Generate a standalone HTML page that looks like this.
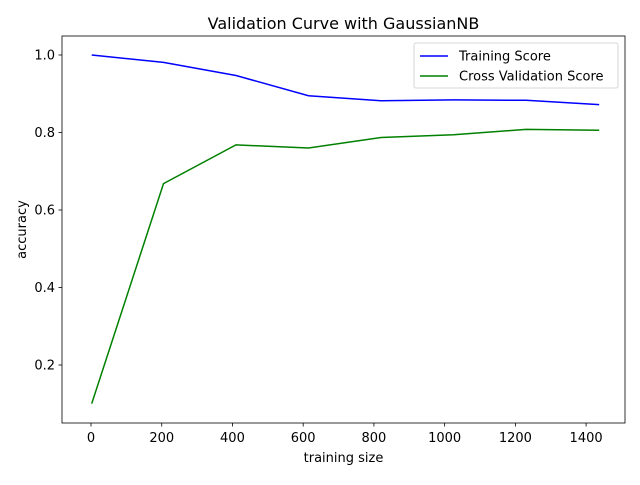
<!DOCTYPE html>
<html><head><meta charset="utf-8"><style>body{margin:0;background:#fff}svg text{font-family:"DejaVu Sans","Liberation Sans",sans-serif;fill:#000}</style></head>
<body>
<svg id="c" width="640" height="480" xmlns="http://www.w3.org/2000/svg"></svg>
<script>
const trainSizes=[2,205,410,615,820,1025,1230,1437];
const trainScores=[1.0,0.981,0.947,0.895,0.882,0.884,0.883,0.872];
const cvScores=[0.1,0.668,0.768,0.760,0.787,0.794,0.808,0.806];
const xTicks=[0,200,400,600,800,1000,1200,1400];
const yTicks=[0.2,0.4,0.6,0.8,1.0];
const L=62,R=625,T=36,B=423;
const xMin=-82,xMax=1510,yMin=0.0503,yMax=1.049;
const sx=v=>L+(v-xMin)/(xMax-xMin)*(R-L);
const sy=v=>B-(v-yMin)/(yMax-yMin)*(B-T);
const svg=document.getElementById('c');const NS='http://www.w3.org/2000/svg';
function mk(t,a,txt){const e=document.createElementNS(NS,t);for(const k in a)e.setAttribute(k,a[k]);if(txt!==undefined)e.textContent=txt;svg.appendChild(e);return e;}
let e;
e=mk('rect',{x:L,y:T,width:R-L,height:B-T,fill:'none',stroke:'#000','stroke-width':0.8});


xTicks.forEach(v=>{const x=sx(v);
e=mk('line',{x1:x,x2:x,y1:B,y2:B+3.5,stroke:'#000','stroke-width':0.8});


e=mk('text',{x:x,y:B+19,'font-size':13,'text-anchor':'middle'},String(v));

});
yTicks.forEach(v=>{const y=sy(v);
e=mk('line',{x1:L-3.5,x2:L,y1:y,y2:y,stroke:'#000','stroke-width':0.8});


e=mk('text',{x:L-7,y:y+4.5,'font-size':13,'text-anchor':'end'},v.toFixed(1));

});
function line(vals,col,name){const p=vals.map((v,i)=>sx(trainSizes[i]).toFixed(1)+','+sy(v).toFixed(1)).join(' ');
e=mk('polyline',{points:p,fill:'none',stroke:col,'stroke-width':1.5});

}
line(trainScores,'#0000ff','training-score-line');
line(cvScores,'#008000','cross-validation-score-line');
e=mk('text',{x:(L+R)/2,y:T-7,'font-size':16,'text-anchor':'middle'},'Validation Curve with GaussianNB');


e=mk('text',{x:(L+R)/2,y:462,'font-size':13,'text-anchor':'middle'},'training size');


e=mk('text',{x:26,y:(T+B)/2,'font-size':13,'text-anchor':'middle',transform:'rotate(-90 26 '+(T+B)/2+')'},'accuracy');


e=mk('rect',{x:414,y:43,width:204,height:45,rx:2,fill:'#fff','fill-opacity':0.8,stroke:'#ccc','stroke-width':0.8});


[['Training Score','#0000ff',56],['Cross Validation Score','#008000',76]].forEach(([t,c,y])=>{
e=mk('line',{x1:420,x2:448,y1:y,y2:y,stroke:c,'stroke-width':1.5});


e=mk('text',{x:459,y:y+4.5,'font-size':13},t);

});
</script>
</body></html>
